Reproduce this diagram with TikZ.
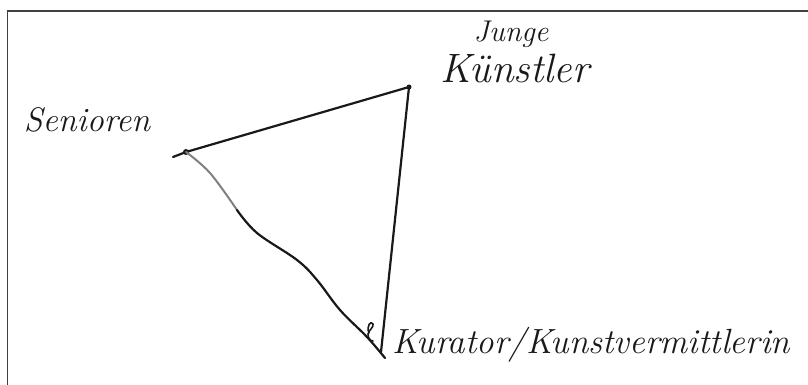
\documentclass[tikz,border=0pt]{standalone}
\usepackage{fontspec}
\begin{document}
\begin{tikzpicture}[x=1pt,y=-1pt,
  frame/.style={draw=black!75, line width=1.4pt},
  stroke/.style={draw=black!90, line width=2.2pt, line cap=round, line join=round},
  graystroke/.style={draw=black!50, line width=2pt, line cap=round, line join=round},
  hand/.style={inner sep=0pt, anchor=center, text=black!90},
  vdot/.style={circle, fill=black!90, inner sep=0pt, minimum size=6pt}]
\useasboundingbox (0,0) rectangle (808,385);
% frame
\coordinate (fbl) at (7.5,385);
\coordinate (ftl) at (7.5,11);
\coordinate (ftr) at (808,11);
\draw[frame] (fbl) -- (ftl) -- (ftr);
% vertices
\coordinate (S0) at (173,157);
\node[vdot] (S) at (186,152) {};
\node[vdot, minimum size=5pt] (K) at (409,87) {};
\coordinate (C) at (385,358);
\coordinate (Cv) at (381,352);
\coordinate (G) at (237,210);
% edges
\draw[stroke] (S0) -- (S.center) -- (K.center);
\draw[stroke] (K.center) -- (Cv);
\draw[graystroke] plot[smooth, tension=0.6] coordinates {(S.center) (210,173) (G)};
\draw[stroke] plot[smooth, tension=0.6] coordinates {(G) (257,233) (297,260) (317,280) (340,310) (367,337) (C)};
% small mark
\draw[stroke, line width=1.6pt] (369,333) .. controls (366,326) and (371,320) .. (373,324) .. controls (374,327) and (369,330) .. (368,334) .. controls (368,338) and (370,341) .. (373,341);
% labels
\node[hand, font=\itshape\fontsize{34}{34}\selectfont] (sen) at (87,120) {Senioren};
\node[hand, font=\itshape\fontsize{30}{30}\selectfont] (jun) at (511,34) {Junge};
\node[hand, font=\itshape\fontsize{41}{41}\selectfont] (kue) at (515,68) {Künstler};
\node[hand, font=\itshape\fontsize{35}{35}\selectfont] (kur) at (591,345) {Kurator/Kunstvermittlerin};
\end{tikzpicture}
\end{document}
